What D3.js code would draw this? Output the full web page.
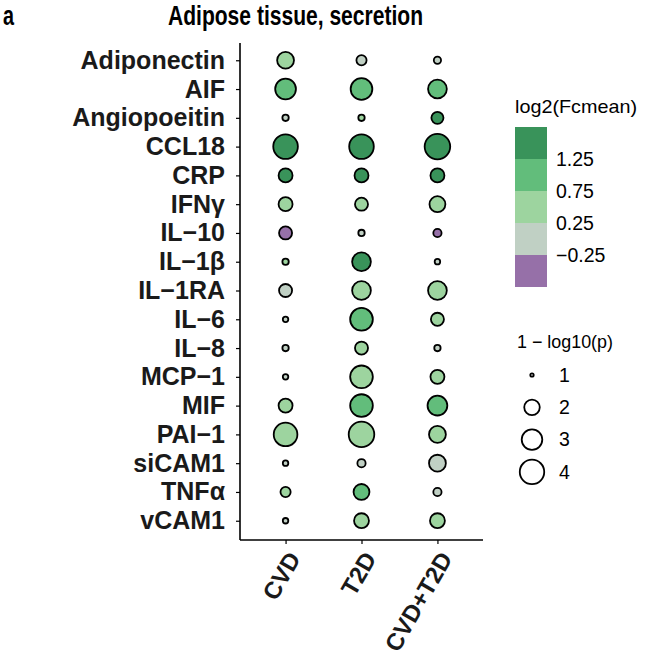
<!DOCTYPE html>
<html>
<head>
<meta charset="utf-8">
<script src="https://cdn.jsdelivr.net/npm/d3@7"></script>
<style>
  body { margin: 0; background: #fff; }
  svg { display: block; }
  text { font-family: "Liberation Sans", Arial, sans-serif; }
</style>
</head>
<body>
<svg id="chart" width="645" height="660"></svg>
<script>
// ---- data ----
const cytokines = ["Adiponectin","AIF","Angiopoeitin","CCL18","CRP","IFN\u03B3","IL\u221210","IL\u22121\u03B2","IL\u22121RA","IL\u22126","IL\u22128","MCP\u22121","MIF","PAI\u22121","siCAM1","TNF\u03B1","vCAM1"];
const groups = ["CVD","T2D","CVD+T2D"];
// log2(Fcmean)
const fcCVD  = [0.45, 1.00, 0.05, 1.55, 1.45, 0.50, -0.45, 0.55, 0.10, 0.05, 0.00, 0.10, 0.50, 0.40, 0.05, 0.55, 0.10];
const fcT2D  = [0.05, 0.95, 0.40, 1.50, 1.40, 0.45, 0.10, 1.45, 0.50, 1.05, 0.55, 0.45, 1.00, 0.50, 0.15, 1.00, 0.50];
const fcBoth = [0.10, 0.90, 1.40, 1.50, 1.50, 0.50, -0.40, 0.20, 0.55, 0.60, 0.10, 0.55, 1.05, 0.45, 0.05, 0.15, 0.55];
// 1 - log10(p)
const pCVD  = [2.23, 3.04, 1.06, 4.05, 1.76, 1.76, 1.63, 1.06, 1.63, 1.03, 1.06, 1.03, 1.76, 3.78, 1.03, 1.31, 1.03];
const pT2D  = [1.31, 3.27, 1.06, 4.05, 1.76, 1.63, 1.06, 2.60, 2.60, 3.52, 1.63, 3.52, 3.52, 4.33, 1.16, 2.06, 1.90];
const pBoth = [1.10, 2.60, 1.51, 4.33, 1.76, 2.06, 1.16, 1.03, 2.60, 1.63, 1.06, 1.76, 2.82, 2.23, 2.23, 1.16, 1.90];
const colorBreaks = [-0.25, 0.25, 0.75, 1.25];
const colorLabels = ["1.25","0.75","0.25","\u22120.25"];
const sizeBreaks = [1, 2, 3, 4];

const fcByGroup = [fcCVD, fcT2D, fcBoth];
const pByGroup = [pCVD, pT2D, pBoth];
const cells = [];
groups.forEach((g, gi) => cytokines.forEach((c, ci) => cells.push({g, c, fc: fcByGroup[gi][ci], p: pByGroup[gi][ci]})));

// ---- scales ----
const svg = d3.select("#chart");
const x = d3.scalePoint().domain(groups).range([240, 483]).padding(0.6);
const y = d3.scalePoint().domain(cytokines).range([43, 538]).padding(0.6);
const color = d3.scaleThreshold().domain(colorBreaks)
  .range(["#9670a8", "#c0d0c4", "#9dd49f", "#62bd7b", "#39935a"]);
const tSize = d3.scaleLinear().domain([1, 4.4]).range([0, 1]).clamp(true);
const rOuter = v => 2.6 + 11.2 * Math.sqrt(tSize(v));
const SW = 1.8;
const FONT = "'Liberation Sans', Arial, sans-serif";

// ---- axes ----
const yAxis = svg.append("g").attr("transform", "translate(240,0)")
  .call(d3.axisLeft(y).tickSize(4).tickPadding(11));
yAxis.select(".domain").attr("d", "M0,43V540").attr("stroke-width", 1.6);
yAxis.selectAll(".tick line").attr("stroke-width", 1.2);
yAxis.selectAll(".tick text").attr("font-size", 25).attr("font-weight", "bold")
  .attr("font-family", FONT).attr("fill", "#1a1a1a");

const xAxis = svg.append("g").attr("transform", "translate(0,540)")
  .call(d3.axisBottom(x).tickSize(4).tickPadding(6));
xAxis.select(".domain").attr("d", "M240,0H483").attr("stroke-width", 1.6);
xAxis.selectAll(".tick line").attr("stroke-width", 1.2);
xAxis.selectAll(".tick text")
  .attr("font-size", 24).attr("font-weight", "bold").attr("fill", "#1a1a1a")
  .attr("font-family", FONT)
  .attr("text-anchor", "end").attr("dy", "0.35em").attr("y", 0)
  .attr("transform", "translate(8,14) rotate(-60)");

// ---- points ----
svg.append("g").selectAll("circle").data(cells).join("circle")
  .attr("cx", d => x(d.g)).attr("cy", d => y(d.c))
  .attr("r", d => rOuter(d.p) - SW / 2)
  .attr("fill", d => color(d.fc))
  .attr("stroke", "#000").attr("stroke-width", SW);

// ---- title ----
svg.append("text").attr("x", 3).attr("y", 25).attr("font-size", 28).attr("font-weight", "bold")
  .attr("textLength", 11).attr("lengthAdjust", "spacingAndGlyphs").text("a");
svg.append("text").attr("x", 168).attr("y", 25)
  .attr("font-size", 27).attr("font-weight", "bold")
  .attr("textLength", 255).attr("lengthAdjust", "spacingAndGlyphs")
  .text("Adipose tissue, secretion");

// ---- color legend ----
const cl = svg.append("g");
cl.append("text").attr("x", 515).attr("y", 113).attr("font-size", 19)
  .attr("textLength", 122).attr("lengthAdjust", "spacingAndGlyphs").text("log2(Fcmean)");
const boxColors = [1.5, 1.0, 0.5, 0.0, -0.5];
cl.selectAll("rect").data(boxColors).join("rect")
  .attr("x", 515).attr("y", (d, i) => 127 + i * 32).attr("width", 32).attr("height", 32)
  .attr("fill", d => color(d));
cl.selectAll("text.lab").data(colorLabels).join("text").attr("class", "lab")
  .attr("x", 556).attr("y", (d, i) => 159 + i * 32).attr("dy", "0.35em")
  .attr("font-size", 19.5).text(d => d);

// ---- size legend ----
const sl = svg.append("g");
sl.append("text").attr("x", 517).attr("y", 348).attr("font-size", 18)
  .attr("textLength", 96).attr("lengthAdjust", "spacingAndGlyphs").text("1 \u2212 log10(p)");
sl.selectAll("circle").data(sizeBreaks).join("circle")
  .attr("cx", 532).attr("cy", (d, i) => 375 + i * 32.3)
  .attr("r", d => rOuter(d) - SW / 2)
  .attr("fill", "none").attr("stroke", "#000").attr("stroke-width", SW);
sl.selectAll("text.lab").data(sizeBreaks).join("text").attr("class", "lab")
  .attr("x", 559).attr("y", (d, i) => 375 + i * 32.3).attr("dy", "0.35em")
  .attr("font-size", 19.5).text(d => d);
</script>
</body>
</html>
